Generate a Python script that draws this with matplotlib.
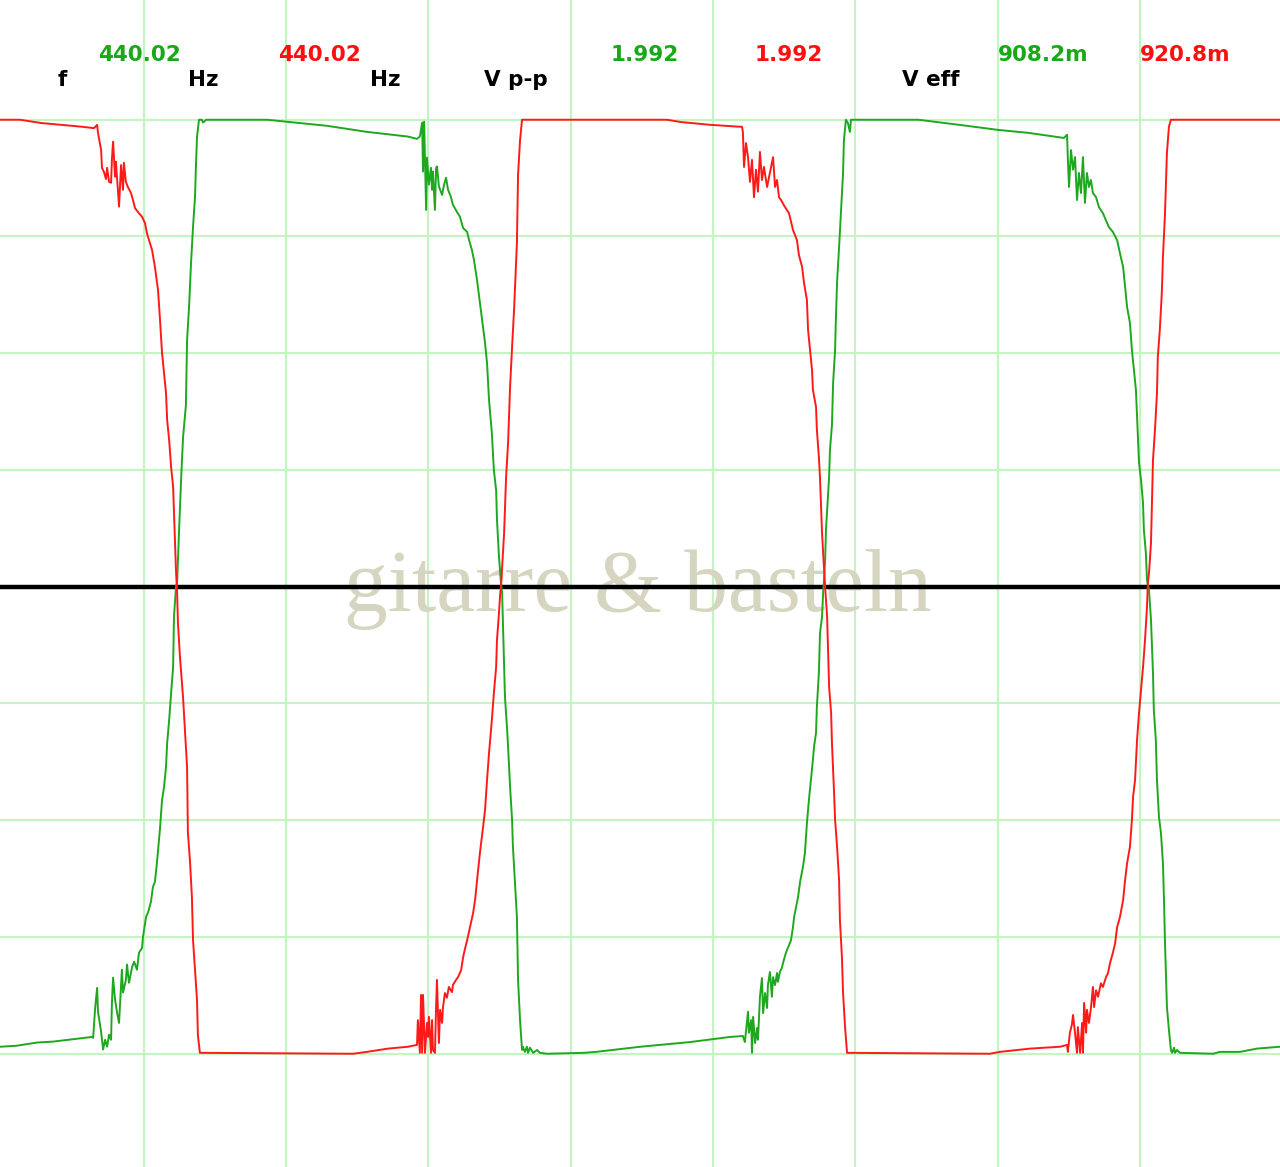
import numpy as np
import matplotlib
matplotlib.use("Agg")
import matplotlib.pyplot as plt

# scope capture, 0.5 ms/div, 0.25 V/div
# channel 1 (green), time in ms, voltage in V
green_t = [-0.005, 0.051, 0.125, 0.181, 0.237, 0.318, 0.322, 0.329, 0.336, 0.339,
           0.350, 0.357, 0.364, 0.371, 0.378, 0.385, 0.388, 0.392, 0.399, 0.406,
           0.413, 0.423, 0.427, 0.437, 0.441, 0.448, 0.459, 0.466, 0.476, 0.483,
           0.494, 0.497, 0.508, 0.515, 0.525, 0.532, 0.539, 0.546, 0.557, 0.564,
           0.571, 0.578, 0.582, 0.589, 0.596, 0.603, 0.606, 0.613, 0.617, 0.624,
           0.631, 0.638, 0.648, 0.652, 0.659, 0.666, 0.673, 0.680, 0.683, 0.687,
           0.694, 0.704, 0.708, 0.719, 0.933, 0.999, 1.144, 1.284, 1.428, 1.460,
           1.470, 1.478, 1.481, 1.485, 1.492, 1.495, 1.502, 1.509, 1.513, 1.516,
           1.523, 1.527, 1.530, 1.537, 1.548, 1.555, 1.562, 1.569, 1.579, 1.586,
           1.600, 1.611, 1.622, 1.636, 1.643, 1.653, 1.660, 1.671, 1.681, 1.692,
           1.699, 1.706, 1.713, 1.723, 1.730, 1.738, 1.741, 1.748, 1.755, 1.759,
           1.762, 1.769, 1.776, 1.780, 1.787, 1.794, 1.797, 1.804, 1.811, 1.815,
           1.822, 1.829, 1.832, 1.839, 1.846, 1.850, 1.857, 1.868, 1.882, 1.892,
           1.917, 2.047, 2.089, 2.145, 2.244, 2.419, 2.560, 2.605, 2.612, 2.619,
           2.623, 2.626, 2.634, 2.637, 2.641, 2.648, 2.655, 2.658, 2.665, 2.672,
           2.676, 2.683, 2.690, 2.693, 2.700, 2.707, 2.711, 2.718, 2.725, 2.728,
           2.735, 2.742, 2.746, 2.756, 2.764, 2.774, 2.781, 2.785, 2.792, 2.799,
           2.806, 2.816, 2.823, 2.830, 2.837, 2.844, 2.851, 2.855, 2.862, 2.865,
           2.872, 2.876, 2.883, 2.887, 2.890, 2.894, 2.897, 2.901, 2.908, 2.911,
           2.918, 2.922, 2.929, 2.932, 2.936, 2.943, 2.950, 2.957, 2.960, 2.967,
           2.974, 2.981, 2.985, 2.995, 3.220, 3.248, 3.392, 3.505, 3.607, 3.733,
           3.744, 3.747, 3.751, 3.758, 3.765, 3.772, 3.779, 3.786, 3.793, 3.800,
           3.807, 3.814, 3.821, 3.828, 3.835, 3.846, 3.856, 3.870, 3.891, 3.905,
           3.920, 3.930, 3.941, 3.948, 3.955, 3.965, 3.972, 3.979, 3.986, 3.990,
           3.993, 3.997, 4.004, 4.011, 4.014, 4.021, 4.025, 4.032, 4.039, 4.046,
           4.049, 4.056, 4.060, 4.067, 4.074, 4.081, 4.085, 4.088, 4.095, 4.102,
           4.109, 4.113, 4.120, 4.123, 4.130, 4.141, 4.257, 4.281, 4.352, 4.411,
           4.492]
green_v = [-0.985, -0.983, -0.976, -0.974, -0.970, -0.964, -0.966, -0.902, -0.859, -0.910,
           -0.953, -0.991, -0.970, -0.985, -0.959, -0.970, -0.891, -0.837, -0.884, -0.912,
           -0.934, -0.820, -0.869, -0.842, -0.809, -0.848, -0.814, -0.803, -0.820, -0.784,
           -0.773, -0.750, -0.707, -0.697, -0.675, -0.643, -0.632, -0.592, -0.517, -0.457,
           -0.429, -0.386, -0.335, -0.286, -0.227, -0.172, -0.065, 0.0, 0.008, 0.122,
           0.229, 0.321, 0.389, 0.528, 0.599, 0.694, 0.771, 0.835, 0.897, 0.964,
           1.0, 1.0, 0.994, 1.0, 1.0, 0.996, 0.987, 0.974, 0.964, 0.959,
           0.964, 0.994, 0.889, 0.996, 0.807, 0.919, 0.861, 0.897, 0.850, 0.889,
           0.807, 0.897, 0.900, 0.857, 0.839, 0.861, 0.876, 0.850, 0.835, 0.818,
           0.803, 0.792, 0.768, 0.760, 0.742, 0.721, 0.700, 0.656, 0.608, 0.556,
           0.522, 0.479, 0.400, 0.329, 0.250, 0.207, 0.143, 0.064, 0.008, -0.013,
           -0.078, -0.236, -0.300, -0.343, -0.429, -0.499, -0.557, -0.634, -0.707, -0.842,
           -0.928, -0.992, -0.985, -0.996, -0.985, -0.998, -0.987, -0.998, -0.992, -0.998,
           -1.0, -0.998, -0.996, -0.992, -0.985, -0.975, -0.964, -0.962, -0.975, -0.934,
           -0.910, -0.955, -0.928, -0.998, -0.921, -0.977, -0.945, -0.970, -0.878, -0.838,
           -0.913, -0.870, -0.902, -0.853, -0.825, -0.878, -0.836, -0.853, -0.827, -0.846,
           -0.825, -0.816, -0.806, -0.784, -0.772, -0.757, -0.729, -0.707, -0.686, -0.664,
           -0.632, -0.600, -0.570, -0.506, -0.457, -0.414, -0.371, -0.343, -0.313, -0.257,
           -0.185, -0.099, -0.065, -0.013, 0.014, 0.057, 0.122, 0.164, 0.235, 0.293,
           0.346, 0.436, 0.507, 0.578, 0.653, 0.727, 0.807, 0.886, 0.956, 1.0,
           0.993, 0.974, 1.0, 1.0, 1.0, 0.998, 0.987, 0.978, 0.972, 0.961,
           0.968, 0.914, 0.856, 0.935, 0.893, 0.920, 0.828, 0.886, 0.843, 0.920,
           0.822, 0.886, 0.856, 0.871, 0.843, 0.834, 0.813, 0.800, 0.770, 0.760,
           0.742, 0.714, 0.685, 0.642, 0.599, 0.565, 0.507, 0.464, 0.422, 0.364,
           0.320, 0.265, 0.229, 0.179, 0.122, 0.072, 0.014, -0.007, -0.071, -0.185,
           -0.264, -0.328, -0.414, -0.493, -0.527, -0.592, -0.678, -0.757, -0.900, -0.949,
           -0.992, -0.998, -0.987, -0.998, -0.992, -0.998, -1.0, -0.996, -0.996, -0.989,
           -0.985]

# channel 2 (red)
red_t = [-0.005, 0.065, 0.139, 0.209, 0.283, 0.325, 0.336, 0.339, 0.350, 0.353,
         0.360, 0.367, 0.371, 0.378, 0.385, 0.388, 0.392, 0.399, 0.402, 0.413,
         0.420, 0.427, 0.430, 0.437, 0.444, 0.455, 0.462, 0.469, 0.480, 0.494,
         0.504, 0.511, 0.529, 0.539, 0.550, 0.557, 0.564, 0.578, 0.582, 0.589,
         0.596, 0.603, 0.610, 0.613, 0.617, 0.620, 0.627, 0.638, 0.645, 0.652,
         0.655, 0.662, 0.669, 0.673, 0.680, 0.687, 0.690, 0.697, 1.235, 1.284,
         1.358, 1.428, 1.460, 1.463, 1.470, 1.474, 1.478, 1.481, 1.488, 1.495,
         1.499, 1.502, 1.509, 1.513, 1.516, 1.523, 1.527, 1.530, 1.537, 1.541,
         1.548, 1.551, 1.558, 1.565, 1.572, 1.583, 1.586, 1.597, 1.604, 1.615,
         1.622, 1.629, 1.636, 1.646, 1.657, 1.664, 1.671, 1.681, 1.692, 1.699,
         1.706, 1.713, 1.723, 1.730, 1.738, 1.741, 1.748, 1.752, 1.755, 1.759,
         1.766, 1.773, 1.780, 1.787, 1.794, 1.801, 1.811, 1.815, 1.822, 1.829,
         2.338, 2.388, 2.493, 2.595, 2.602, 2.605, 2.609, 2.616, 2.623, 2.630,
         2.637, 2.644, 2.651, 2.658, 2.665, 2.672, 2.679, 2.690, 2.700, 2.711,
         2.718, 2.725, 2.732, 2.739, 2.753, 2.767, 2.781, 2.795, 2.802, 2.813,
         2.820, 2.830, 2.834, 2.841, 2.848, 2.851, 2.862, 2.865, 2.872, 2.876,
         2.883, 2.887, 2.894, 2.901, 2.904, 2.908, 2.915, 2.918, 2.925, 2.929,
         2.936, 2.943, 2.946, 2.953, 2.957, 2.964, 2.971, 3.473, 3.508, 3.614,
         3.719, 3.744, 3.747, 3.754, 3.761, 3.765, 3.772, 3.779, 3.782, 3.790,
         3.797, 3.800, 3.804, 3.811, 3.814, 3.821, 3.828, 3.835, 3.839, 3.846,
         3.853, 3.863, 3.870, 3.881, 3.888, 3.895, 3.905, 3.913, 3.920, 3.930,
         3.941, 3.948, 3.955, 3.965, 3.972, 3.976, 3.983, 3.990, 3.997, 4.004,
         4.011, 4.018, 4.025, 4.028, 4.032, 4.039, 4.042, 4.046, 4.053, 4.060,
         4.063, 4.070, 4.077, 4.081, 4.088, 4.095, 4.102, 4.109, 4.492]
red_v = [1.0, 1.0, 0.993, 0.989, 0.985, 0.982, 0.989, 0.972, 0.935, 0.897,
         0.888, 0.873, 0.897, 0.867, 0.865, 0.916, 0.953, 0.878, 0.910, 0.814,
         0.903, 0.850, 0.908, 0.867, 0.856, 0.843, 0.828, 0.811, 0.802, 0.792,
         0.779, 0.757, 0.721, 0.685, 0.635, 0.571, 0.501, 0.415, 0.357, 0.314,
         0.256, 0.214, 0.094, 0.036, -0.013, -0.078, -0.150, -0.238, -0.313, -0.386,
         -0.527, -0.585, -0.664, -0.757, -0.821, -0.885, -0.960, -0.998, -1.0, -0.996,
         -0.989, -0.985, -0.981, -0.928, -0.998, -0.874, -0.998, -0.874, -0.998, -0.934,
         -0.964, -0.921, -0.998, -0.928, -0.992, -0.998, -0.900, -0.842, -0.977, -0.906,
         -0.934, -0.902, -0.870, -0.880, -0.857, -0.868, -0.853, -0.842, -0.836, -0.821,
         -0.793, -0.774, -0.757, -0.729, -0.699, -0.671, -0.628, -0.570, -0.515, -0.478,
         -0.414, -0.356, -0.285, -0.228, -0.172, -0.114, -0.056, -0.018, 0.0, 0.042,
         0.115, 0.235, 0.308, 0.428, 0.513, 0.593, 0.736, 0.882, 0.956, 1.0,
         1.0, 0.995, 0.989, 0.985, 0.985, 0.974, 0.899, 0.950, 0.920, 0.867,
         0.914, 0.834, 0.893, 0.846, 0.931, 0.871, 0.899, 0.856, 0.886, 0.920,
         0.856, 0.871, 0.834, 0.828, 0.813, 0.800, 0.764, 0.742, 0.710, 0.685,
         0.650, 0.614, 0.550, 0.507, 0.464, 0.422, 0.385, 0.336, 0.278, 0.233,
         0.117, 0.072, 0.0, -0.065, -0.129, -0.215, -0.270, -0.335, -0.435, -0.499,
         -0.557, -0.628, -0.714, -0.793, -0.870, -0.943, -0.998, -1.0, -0.996, -0.989,
         -0.985, -0.981, -0.996, -0.955, -0.938, -0.917, -0.955, -0.998, -0.943, -0.998,
         -0.934, -0.998, -0.891, -0.955, -0.906, -0.934, -0.902, -0.857, -0.900, -0.864,
         -0.878, -0.849, -0.857, -0.836, -0.827, -0.806, -0.784, -0.763, -0.729, -0.707,
         -0.671, -0.628, -0.592, -0.557, -0.499, -0.450, -0.414, -0.328, -0.270, -0.221,
         -0.172, -0.114, -0.043, 0.008, 0.029, 0.094, 0.171, 0.271, 0.336, 0.415,
         0.492, 0.550, 0.629, 0.706, 0.796, 0.929, 0.985, 1.0, 1.0]

# readout header
labels_black = ["f", "Hz", "Hz", "V p-p", "V eff"]
readings_green = ["440.02", "1.992", "908.2m"]
readings_red = ["440.02", "1.992", "920.8m"]

GREEN = "#1fa81f"
RED = "#ff1a1a"
GRID = "#c2f5c2"

W, H = 1280, 1167
fig = plt.figure(figsize=(W / 100, H / 100), dpi=100)
ax = fig.add_axes([0, 0, 1, 1])

ax.set_xlim(-0.0053, 4.4923)
ax.set_ylim(-1.2425, 1.2564)

# graticule
for x in np.arange(0.5, 4.01, 0.5):
    ax.axvline(x, color=GRID, lw=1.5, zorder=1)
for y in np.arange(-1.0, 1.01, 0.25):
    if abs(y) > 1e-9:
        ax.axhline(y, color=GRID, lw=1.5, zorder=1)

ax.text(0.4985, 1 - 611 / H, "gitarre & basteln", transform=fig.transFigure,
        ha="center", va="baseline", fontsize=63, family="Liberation Serif",
        color="#d6d6c0", zorder=2)

ax.axhline(0, color="black", lw=3.2, zorder=3)
ax.plot(green_t, green_v, color=GREEN, lw=1.4, zorder=4)
ax.plot(red_t, red_v, color=RED, lw=1.4, zorder=5)

ax.set_xticks([])
ax.set_yticks([])
for s in ax.spines.values():
    s.set_visible(False)

# header text
black_x = [62, 203, 385, 516, 931]
for lab, px in zip(labels_black, black_x):
    fig.text(px / W, 1 - 80 / H, lab, ha="center", va="center",
             fontsize=15.5, fontweight="bold", color="black")
green_x = [139, 645, 1043]
red_x = [319, 789, 1185]
for lab, px in zip(readings_green, green_x):
    fig.text(px / W, 1 - 55 / H, lab, ha="center", va="center",
             fontsize=15.5, fontweight="bold", color="#18a818")
for lab, px in zip(readings_red, red_x):
    fig.text(px / W, 1 - 55 / H, lab, ha="center", va="center",
             fontsize=15.5, fontweight="bold", color="#ff1010")

fig.savefig("out.png", dpi=100)
